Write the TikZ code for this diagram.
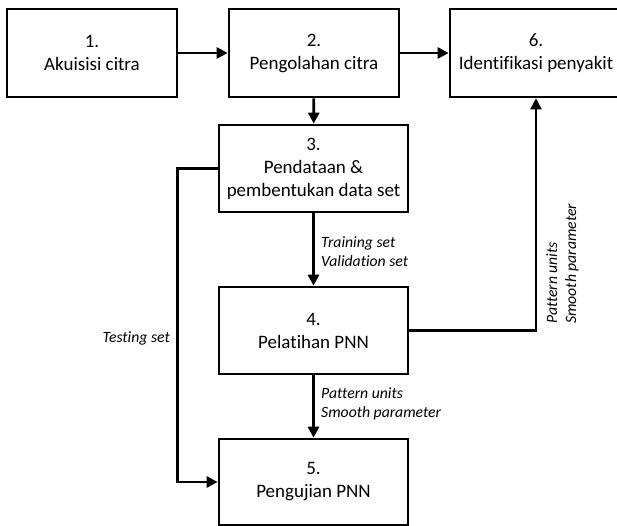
\documentclass[tikz,border=0pt]{standalone}
\usepackage{fontspec}
\setmainfont{Carlito}[Ligatures=NoCommon]
\usetikzlibrary{arrows.meta}
\begin{document}
\begin{tikzpicture}[x=1pt,y=-1pt,
  box/.style={draw=black,line width=2.7pt,fill=white,align=center,inner sep=0pt,
    font=\fontsize{19}{23}\selectfont},
  conn/.style={line width=2.7pt,-{Triangle[length=11pt,width=11pt]}},
  lbl/.style={inner sep=0pt,align=left,font=\fontsize{15.7}{19}\selectfont\itshape}]
\useasboundingbox (0,0) rectangle (617,526);
\clip (0,0) rectangle (617,526);
\node[box,minimum width=170pt,minimum height=88pt] (b1) at (92,53) {1.\\Akuisisi citra};
\node[box,minimum width=170pt,minimum height=88pt] (b2) at (314,53) {2.\\Pengolahan citra};
\node[box,minimum width=172pt,minimum height=88pt] (b6) at (536,53) {6.\\Identifikasi penyakit};
\node[box,minimum width=189pt,minimum height=87pt] (b3) at (313.5,168.5) {3.\\Pendataan \&\\pembentukan data set};
\node[box,minimum width=189pt,minimum height=87pt] (b4) at (313.5,330.5) {4.\\Pelatihan PNN};
\node[box,minimum width=189pt,minimum height=86pt] (b5) at (313.5,482) {5.\\Pengujian PNN};
\draw[conn] (b1) -- (b2);
\draw[conn] (b2) -- (b6);
\draw[conn] (b2) -- (b3);
\draw[conn] (b3) -- (b4);
\draw[conn] (b4) -- (b5);
\draw[conn] (b3.west) -- ++(-40,0) |- (b5.west);
\draw[conn] (b4.east) -| (b6.south);
\node[lbl,anchor=west] (l1) at (321,251.5) {Training set\\Validation set};
\node[lbl,anchor=west] (l2) at (321,403.5) {Pattern units\\Smooth parameter};
\node[lbl,anchor=east] (l3) at (170,338) {Testing set};
\node[lbl,anchor=west,rotate=90] (l4) at (562.5,324) {Pattern units\\Smooth parameter};
\end{tikzpicture}
\end{document}
